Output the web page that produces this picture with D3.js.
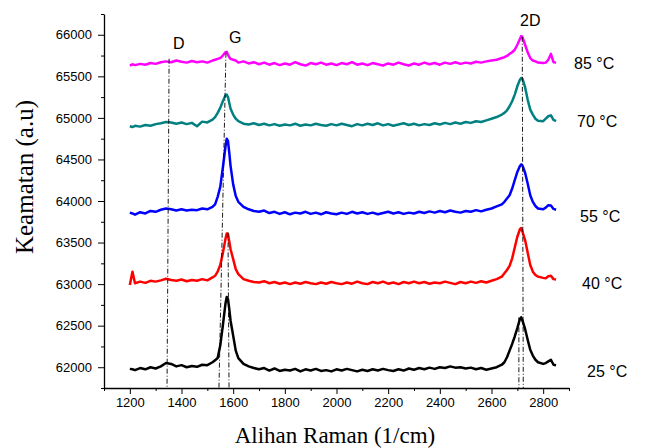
<!DOCTYPE html>
<html>
<head>
<meta charset="utf-8">
<script src="https://cdn.jsdelivr.net/npm/d3@7"></script>
<style>
  body { margin: 0; background: #fff; }
</style>
</head>
<body>
<script>
// wavenumber grid shared by all spectra (1/cm)
const wavenumber = [
  1200,1210,1220,1240,1260,1280,1300,1320,1340,1360,1380,1400,1420,1440,1460,1480,1500,1520,
  1530,1540,1550,1560,1570,
  1575,1580,1585,1590,
  1600,1610,1620,
  1640,1660,1680,1700,1720,1740,1760,1780,1800,1820,1840,1860,1880,1900,1920,1940,1960,1980,2000,
  2020,2040,2060,2080,2100,2120,2140,2160,2180,2200,2220,2240,2260,2280,2300,2320,2340,2360,2380,2400,
  2420,2440,2460,2480,2500,2520,2540,2560,2580,2600,2620,2640,
  2650,2660,2670,2680,2690,2700,2710,
  2715,2720,
  2730,2740,2750,2760,2770,2780,
  2800,2810,2820,2830,2840,2850
];

const temp25 = [
  61980,61975,61965,61990,61975,62000,61985,62010,62050,62040,62010,62025,62000,62015,62005,62030,62025,62060,
  62085,62110,62260,62500,62760,
  62845,62820,62700,62560,
  62380,62200,62110,
  62040,62010,61990,61975,61990,61960,61985,61955,61970,61960,61980,61950,61975,61960,61980,61955,61965,61950,61975,
  61960,61980,61965,61950,61970,61955,61975,61960,61980,61965,61955,61975,61960,61985,61970,61990,61975,61995,61980,62000,
  61990,62010,61995,62000,61985,61995,61975,61990,61970,61985,62000,62030,
  62060,62120,62200,62280,62370,62470,62580,
  62600,62560,
  62460,62330,62210,62140,62090,62060,
  62040,62050,62070,62090,62030,62025
];

const temp40 = [
  62990,63150,63010,63030,63015,63040,63030,63045,63065,63050,63040,63055,63035,63050,63040,63060,63045,63080,
  63100,63150,63230,63370,63540,
  63610,63600,63510,63420,
  63300,63180,63120,
  63060,63040,63025,63020,63035,63010,63025,63005,63020,63000,63020,63005,63025,63010,63000,63020,63005,63025,63010,
  63000,63020,63005,63030,63010,63000,63025,63010,63030,63005,63020,63000,63025,63010,63030,63010,63025,63005,63020,63010,
  63030,63015,63000,63025,63010,63030,63015,63035,63020,63040,63060,63090,
  63130,63170,63220,63310,63440,63570,63660,
  63675,63630,
  63530,63380,63230,63150,63110,63090,
  63075,63070,63095,63100,63060,63055
];

const temp55 = [
  63860,63850,63835,63865,63850,63880,63870,63895,63910,63900,63885,63900,63885,63895,63890,63910,63900,63930,
  63960,64050,64170,64400,64650,
  64750,64720,64580,64420,
  64200,64060,63990,
  63930,63900,63880,63870,63885,63855,63870,63845,63865,63840,63860,63850,63870,63845,63860,63840,63865,63850,63840,
  63860,63845,63870,63850,63865,63845,63860,63840,63855,63870,63850,63865,63845,63860,63850,63870,63855,63875,63860,63880,
  63865,63885,63870,63860,63880,63870,63890,63875,63895,63910,63935,63960,
  63990,64030,64070,64150,64250,64350,64420,
  64440,64425,
  64340,64210,64070,63990,63940,63910,
  63900,63920,63950,63945,63905,63895
];

const temp70 = [
  64900,64890,64905,64895,64915,64905,64925,64935,64950,64945,64930,64945,64925,64940,64900,64955,64945,64980,
  65010,65060,65120,65200,65270,
  65280,65250,65180,65110,
  65040,64990,64960,
  64930,64920,64935,64915,64930,64910,64925,64905,64920,64910,64930,64905,64920,64910,64930,64915,64905,64925,64910,
  64930,64915,64900,64925,64910,64930,64915,64935,64910,64925,64905,64920,64935,64915,64930,64910,64925,64915,64935,64920,
  64940,64925,64945,64930,64950,64940,64960,64950,64970,64990,65010,65040,
  65060,65090,65140,65200,65280,65380,65460,
  65480,65470,
  65370,65220,65100,65040,64990,64965,
  64960,64990,65020,65030,64975,64960
];

const temp85 = [
  65630,65645,65635,65650,65640,65660,65650,65670,65680,65670,65690,65675,65665,65685,65670,65680,65665,65690,
  65700,65710,65720,65750,65790,
  65795,65760,65730,65710,
  65700,65690,65665,
  65680,65655,65670,65645,65665,65640,65660,65635,65655,65640,65670,65645,65630,65660,65645,65665,65640,65655,65635,
  65660,65645,65670,65640,65655,65635,65660,65645,65630,65655,65640,65665,65645,65630,65655,65640,65665,65645,65660,65640,
  65665,65650,65670,65650,65665,65655,65675,65665,65680,65690,65700,65720,
  65730,65745,65770,65790,65820,65880,65950,
  65985,65970,
  65880,65790,65720,65690,65680,65665,
  65660,65665,65700,65770,65670,65665
];

const seriesNames = ["25 °C", "40 °C", "55 °C", "70 °C", "85 °C"];
const seriesValues = [temp25, temp40, temp55, temp70, temp85];
const seriesColors = ["#000000", "#ff0000", "#0000ff", "#008080", "#ff00ff"];

const xTicks = [1200, 1400, 1600, 1800, 2000, 2200, 2400, 2600, 2800];
const xMinorTicks = [1100, 1300, 1500, 1700, 1900, 2100, 2300, 2500, 2700, 2900];
const yTicks = [62000, 62500, 63000, 63500, 64000, 64500, 65000, 65500, 66000];
const yMinorTicks = [61750, 62250, 62750, 63250, 63750, 64250, 64750, 65250, 65750, 66250];

// peak marker lines: [x1, y1, x2, y2] in data units
const peakNames = ["D", "G", "2D"];
const peakLines = [
  [1352, 65712, 1344, 61750],
  [1572, 65784, 1545, 61750],
  [1580, 63622, 1584, 61750],
  [2719, 65976, 2723, 61750],
  [2706, 62601, 2706, 61750]
];

(()=>{
    const width = 645;
    const height = 448;

    const x = d3.scaleLinear()
    .domain([1100, 2900])
    .range([104, 569]);

    const y = d3.scaleLinear()
    .domain([61750, 66250])
    .range([388, 14]);

    const svg = d3.create("svg")
    .attr("width", width)
    .attr("height", height)
    .attr("viewBox", [0, 0, width, height]);

    // spectra
    const line = d3.line()
    .x((d, i) => x(wavenumber[i]))
    .y(d => y(d));

    svg.append("g")
    .selectAll("path")
    .data(seriesValues)
    .join("path")
    .attr("fill", "none")
    .attr("stroke", (d, i) => seriesColors[i])
    .attr("stroke-width", 2.5)
    .attr("stroke-linejoin", "round")
    .attr("d", line);

    // dash-dot peak markers
    svg.append("g")
    .selectAll("line")
    .data(peakLines)
    .join("line")
    .attr("x1", d => x(d[0]))
    .attr("y1", d => y(d[1]))
    .attr("x2", d => x(d[2]))
    .attr("y2", d => y(d[3]))
    .attr("stroke", "#000")
    .attr("stroke-width", 0.9)
    .attr("stroke-dasharray", "5,2,1,2");

    // axes
    const tickFont = g => g.selectAll("text")
        .attr("font-family", "Liberation Sans, Arial, sans-serif")
        .attr("font-size", 13)
        .attr("fill", "#000");

    svg.append("g")
    .attr("transform", "translate(0,388)")
    .call(d3.axisBottom(x).tickValues(xMinorTicks).tickSize(3).tickSizeOuter(0).tickFormat(""))
    .call(g => g.select(".domain").remove());

    svg.append("g")
    .attr("transform", "translate(0,388)")
    .call(d3.axisBottom(x).tickValues(xTicks).tickSize(6).tickPadding(4).tickSizeOuter(0).tickFormat(d3.format("d")))
    .call(tickFont)
    .call(g => g.select(".domain").attr("stroke-width", 1.3));

    svg.append("g")
    .attr("transform", "translate(104,0)")
    .call(d3.axisLeft(y).tickValues(yMinorTicks).tickSize(3).tickSizeOuter(0).tickFormat(""))
    .call(g => g.select(".domain").remove());

    svg.append("g")
    .attr("transform", "translate(104,0)")
    .call(d3.axisLeft(y).tickValues(yTicks).tickSize(6).tickPadding(6).tickSizeOuter(0).tickFormat(d3.format("d")))
    .call(tickFont)
    .call(g => g.select(".domain").attr("stroke-width", 1.3));

    // axis titles
    svg.append("text")
    .attr("x", 335)
    .attr("y", 443)
    .attr("text-anchor", "middle")
    .attr("font-family", "Liberation Serif, Times New Roman, serif")
    .attr("font-size", 23)
    .text("Alihan Raman (1/cm)");

    svg.append("text")
    .attr("transform", "translate(33,177) rotate(-90)")
    .attr("text-anchor", "middle")
    .attr("font-family", "Liberation Serif, Times New Roman, serif")
    .attr("font-size", 25)
    .text("Keamatan (a.u)");

    // temperature labels
    const labelPos = [[587, 377], [582, 289], [580, 222], [577, 127], [574, 69]];
    svg.append("g")
    .selectAll("text")
    .data(seriesNames)
    .join("text")
    .attr("x", (d, i) => labelPos[i][0])
    .attr("y", (d, i) => labelPos[i][1])
    .attr("font-family", "Liberation Sans, Arial, sans-serif")
    .attr("font-size", 16)
    .text(d => d);

    // peak labels
    const peakPos = [[173, 49], [229, 43], [520, 26]];
    svg.append("g")
    .selectAll("text")
    .data(peakNames)
    .join("text")
    .attr("x", (d, i) => peakPos[i][0])
    .attr("y", (d, i) => peakPos[i][1])
    .attr("font-family", "Liberation Sans, Arial, sans-serif")
    .attr("font-size", 16)
    .text(d => d);

    d3.select("body").append(() => svg.node());
})()
</script>
</body>
</html>
